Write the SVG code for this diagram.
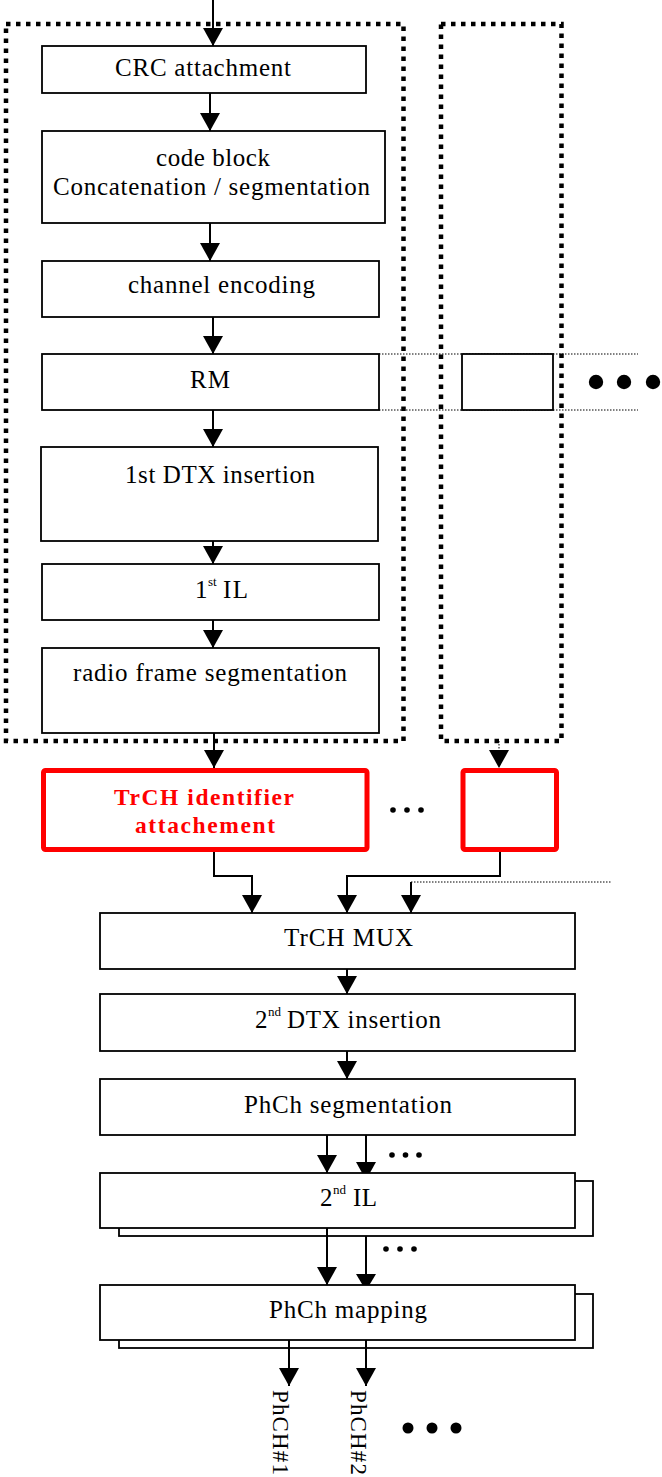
<svg xmlns="http://www.w3.org/2000/svg" width="662" height="1477" viewBox="0 0 662 1477">
<defs>
<style>
.bg{fill:#fff}
.cont{fill:none;stroke:#000;stroke-width:4.5;stroke-dasharray:4.5 5.5}
.box{fill:#fff;stroke:#000;stroke-width:1.8}
.red{fill:#fff;stroke:#f00;stroke-width:5}
.thin{fill:none;stroke:#000;stroke-width:1;stroke-dasharray:1.5 1.5}
.ln{fill:none;stroke:#000;stroke-width:2}
.arr{marker-end:url(#ah)}
.t{font-family:"Liberation Serif","Times New Roman",serif;font-size:25px;fill:#000}
.sup{font-size:13px}
.rt{font-family:"Liberation Serif","Times New Roman",serif;font-size:23.5px;font-weight:bold;fill:#f00}
.vt{font-family:"Liberation Serif","Times New Roman",serif;font-size:23px;fill:#000}
.dot{fill:#000}
</style>
<marker id="ah" markerUnits="userSpaceOnUse" markerWidth="20" markerHeight="20" viewBox="0 -10 18 20" refX="18" refY="0" orient="auto">
<path d="M0,-10 L18,0 L0,10 z" fill="#000"/>
</marker>
</defs>
<rect class="bg" x="0" y="0" width="662" height="1477"/>

<g id="containers">
<rect class="cont" x="6" y="24" width="397.5" height="717"/>
<rect class="cont" x="441" y="24" width="120.5" height="717"/>
<line class="thin" x1="379" y1="354" x2="638" y2="354"/>
<line class="thin" x1="379" y1="410" x2="638" y2="410"/>
</g>

<g id="n-crc"><rect class="box" x="42" y="46" width="324" height="47"/>
<text class="t" x="115" y="76" textLength="176" lengthAdjust="spacing">CRC attachment</text></g>

<g id="n-cb"><rect class="box" x="42" y="131" width="343" height="92"/>
<text class="t" x="156" y="166" textLength="114" lengthAdjust="spacing">code block</text>
<text class="t" x="53" y="195" textLength="317" lengthAdjust="spacing">Concatenation / segmentation</text></g>

<g id="n-ce"><rect class="box" x="42" y="261" width="337" height="56"/>
<text class="t" x="128" y="293" textLength="187" lengthAdjust="spacing">channel encoding</text></g>

<g id="n-rm"><rect class="box" x="42" y="354" width="337" height="56"/>
<text class="t" x="190" y="388" textLength="40" lengthAdjust="spacing">RM</text></g>

<g id="n-rm2"><rect class="box" x="462" y="354" width="91" height="56"/></g>

<g id="n-dtx1"><rect class="box" x="41" y="447" width="337" height="94"/>
<text class="t" x="125" y="483" textLength="190" lengthAdjust="spacing">1st DTX insertion</text></g>

<g id="n-il1"><rect class="box" x="42" y="564" width="337" height="56"/>
<text class="t"><tspan x="195" y="598">1</tspan><tspan class="sup" x="208" y="586">st</tspan><tspan x="223" y="598" textLength="25" lengthAdjust="spacing">IL</tspan></text></g>

<g id="n-rfs"><rect class="box" x="42" y="648" width="337" height="85"/>
<text class="t" x="73" y="681" textLength="274" lengthAdjust="spacing">radio frame segmentation</text></g>

<g id="n-tid"><rect class="red" x="43.5" y="770.5" width="323.5" height="79" rx="2"/>
<text class="rt" x="114" y="805" textLength="180" lengthAdjust="spacing">TrCH identifier</text>
<text class="rt" x="135" y="833" textLength="140" lengthAdjust="spacing">attachement</text></g>

<g id="n-tid2"><rect class="red" x="463" y="770.5" width="93.5" height="79" rx="2"/></g>

<g id="n-mux"><rect class="box" x="100" y="913" width="475" height="56"/>
<text class="t" x="284" y="946" textLength="129" lengthAdjust="spacing">TrCH MUX</text></g>

<g id="n-dtx2"><rect class="box" x="100" y="994" width="475" height="57"/>
<text class="t"><tspan x="255" y="1028">2</tspan><tspan class="sup" x="268" y="1016">nd</tspan><tspan x="287" y="1028" textLength="154" lengthAdjust="spacing">DTX insertion</tspan></text></g>

<g id="n-phs"><rect class="box" x="100" y="1079" width="475" height="56"/>
<text class="t" x="244" y="1113" textLength="208" lengthAdjust="spacing">PhCh segmentation</text></g>

<g id="n-il2"><rect class="box" x="119" y="1181" width="474" height="55"/>
<rect class="box" x="100" y="1173" width="475" height="55"/>
<text class="t"><tspan x="320" y="1206">2</tspan><tspan class="sup" x="333" y="1194">nd</tspan><tspan x="353" y="1206" textLength="24" lengthAdjust="spacing">IL</tspan></text></g>

<g id="n-map"><rect class="box" x="119" y="1294" width="474" height="54"/>
<rect class="box" x="100" y="1285" width="475" height="55"/>
<text class="t" x="269" y="1318" textLength="158" lengthAdjust="spacing">PhCh mapping</text></g>

<g id="connectors">
<line class="ln arr" x1="213" y1="0" x2="213" y2="46"/>
<line class="ln arr" x1="210" y1="93" x2="210" y2="131"/>
<line class="ln arr" x1="210" y1="223" x2="210" y2="261"/>
<line class="ln arr" x1="213" y1="317" x2="213" y2="354"/>
<line class="ln arr" x1="213" y1="410" x2="213" y2="447"/>
<line class="ln arr" x1="213" y1="541" x2="213" y2="564"/>
<line class="ln arr" x1="213" y1="620" x2="213" y2="648"/>
<line class="ln arr" x1="214" y1="733" x2="214" y2="768"/>
<line class="thin arr" x1="499" y1="741" x2="499" y2="768"/>
<path class="ln arr" d="M214,852 V876 H252 V913"/>
<path class="ln arr" d="M500,852 V876 H347 V913"/>
<line class="thin" x1="411" y1="882" x2="612" y2="882"/>
<line class="ln arr" x1="411" y1="882" x2="411" y2="913"/>
<line class="ln arr" x1="347" y1="969" x2="347" y2="994"/>
<line class="ln arr" x1="347" y1="1051" x2="347" y2="1079"/>
<line class="ln arr" x1="327" y1="1135" x2="327" y2="1173"/>
<line class="ln" x1="366" y1="1135" x2="366" y2="1163"/>
<polygon class="dot" points="356,1162 376,1162 369.9,1173 362.1,1173"/>
<line class="ln arr" x1="327" y1="1228" x2="327" y2="1285"/>
<line class="ln" x1="366" y1="1236" x2="366" y2="1275"/>
<polygon class="dot" points="356,1274 376,1274 369.4,1285 362.6,1285"/>
<line class="ln arr" x1="289" y1="1340" x2="289" y2="1386"/>
<line class="ln arr" x1="366" y1="1340" x2="366" y2="1386"/>
</g>

<g id="dots">
<circle class="dot" cx="596" cy="382" r="7.2"/><circle class="dot" cx="624" cy="382" r="7.2"/><circle class="dot" cx="653" cy="382" r="7.2"/>
<circle class="dot" cx="393" cy="810" r="2.8"/><circle class="dot" cx="407" cy="810" r="2.8"/><circle class="dot" cx="421" cy="810" r="2.8"/>
<circle class="dot" cx="392" cy="1155" r="2.8"/><circle class="dot" cx="405.5" cy="1155" r="2.8"/><circle class="dot" cx="419" cy="1155" r="2.8"/>
<circle class="dot" cx="386" cy="1249" r="2.8"/><circle class="dot" cx="400" cy="1249" r="2.8"/><circle class="dot" cx="414" cy="1249" r="2.8"/>
<circle class="dot" cx="408" cy="1428" r="5.5"/><circle class="dot" cx="432" cy="1428" r="5.5"/><circle class="dot" cx="456" cy="1428" r="5.5"/>
</g>

<g id="labels">
<text class="vt" transform="translate(273,1390) rotate(90)" x="0" y="0" textLength="85" lengthAdjust="spacing">PhCH#1</text>
<text class="vt" transform="translate(351,1390) rotate(90)" x="0" y="0" textLength="85" lengthAdjust="spacing">PhCH#2</text>
</g>
</svg>
